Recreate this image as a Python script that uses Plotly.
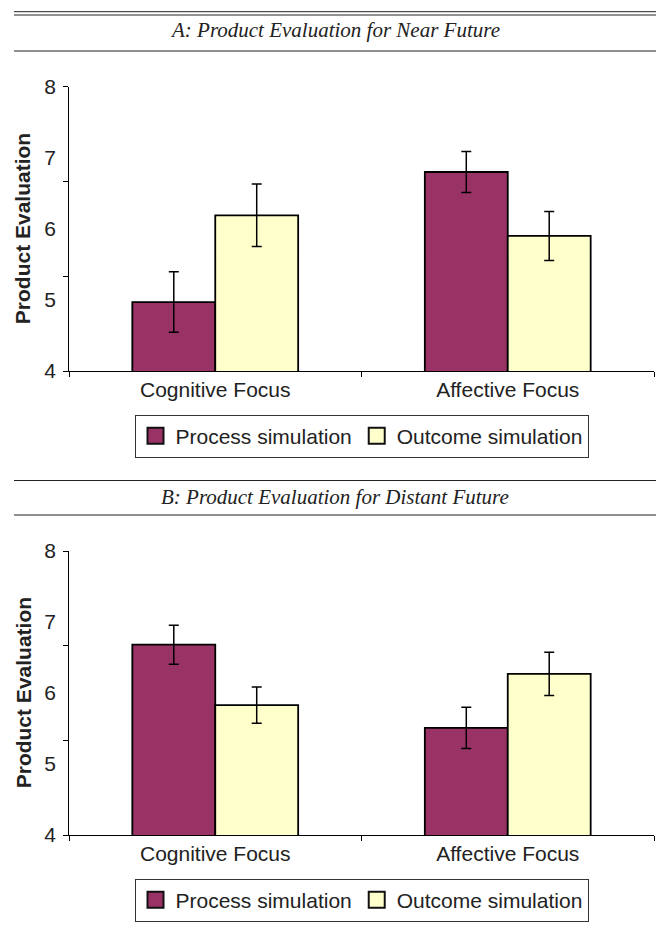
import plotly.graph_objects as go

# ---------------- data ----------------
categories = ["Cognitive Focus", "Affective Focus"]
series_names = ["Process simulation", "Outcome simulation"]

near_process = [4.97, 6.80]
near_process_err = [0.425, 0.29]
near_outcome = [6.19, 5.90]
near_outcome_err = [0.44, 0.345]

far_process = [6.68, 5.51]
far_process_err = [0.275, 0.29]
far_outcome = [5.83, 6.27]
far_outcome_err = [0.255, 0.305]

y_labels = [4, 5, 6, 7, 8]
y_tickmarks = [4, 4 + 4 / 3, 4 + 8 / 3, 8]

panel_titles = ["A: Product Evaluation for Near Future",
                "B: Product Evaluation for Distant Future"]
y_title = "Product Evaluation"

# ---------------- style ----------------
W, H = 656, 940
PROC = "#993366"
OUTC = "#FFFFCC"
TXT = "#222222"
SANS = "Liberation Sans, Arial, sans-serif"
SERIF = "Liberation Serif, Times New Roman, serif"
FS = 21

def py(px):  # pixel from top -> paper
    return 1 - px / H

def pxx(px):
    return px / W

xdom = [pxx(69), pxx(654)]
doms = {
    "A": [py(371), py(86.7)],
    "B": [py(835), py(551)],
}

fig = go.Figure()

panels = [
    ("x", "y", "y3", "legend", near_process, near_process_err, near_outcome, near_outcome_err),
    ("x2", "y2", "y4", "legend2", far_process, far_process_err, far_outcome, far_outcome_err),
]

for xa, ya, yl, lg, pv, pe, ov, oe in panels:
    fig.add_trace(go.Bar(
        x=categories, y=pv, name=series_names[0], xaxis=xa, yaxis=ya,
        marker=dict(color=PROC, line=dict(color="black", width=1.8)),
        error_y=dict(type="data", array=pe, color="black", thickness=1.5, width=5),
        showlegend=False, hoverinfo="skip"))
    fig.add_trace(go.Bar(
        x=categories, y=ov, name=series_names[1], xaxis=xa, yaxis=ya,
        marker=dict(color=OUTC, line=dict(color="black", width=1.8)),
        error_y=dict(type="data", array=oe, color="black", thickness=1.5, width=5),
        showlegend=False, hoverinfo="skip"))
    # legend entries
    for nm, col in zip(series_names, [PROC, OUTC]):
        fig.add_trace(go.Scatter(
            x=[None], y=[None], mode="markers", name=nm, xaxis=xa, yaxis=ya,
            marker=dict(symbol="square", size=16, color=col,
                        line=dict(color="#111", width=2)),
            legend=lg, hoverinfo="skip"))
    # dummy trace for label axis
    fig.add_trace(go.Scatter(x=[None], y=[None], xaxis=xa, yaxis=yl,
                             showlegend=False, hoverinfo="skip"))

xcommon = dict(type="category", range=[-0.5, 1.5], domain=xdom,
               showline=True, linecolor="black", linewidth=1,
               ticks="outside", tickson="boundaries", ticklen=5,
               tickcolor="black", showgrid=False, zeroline=False,
               tickfont=dict(family=SANS, size=FS, color=TXT), fixedrange=True)

ymain = dict(range=[4, 8], showline=True, linecolor="black", linewidth=1,
             tickmode="array", tickvals=y_tickmarks, showticklabels=False,
             ticks="outside", ticklen=5, tickcolor="black",
             showgrid=False, zeroline=False, fixedrange=True)

ylab = dict(range=[4, 8], showline=False, tickmode="array", tickvals=y_labels,
            ticks="", showgrid=False, zeroline=False, ticklabelstandoff=12,
            tickfont=dict(family=SANS, size=FS, color=TXT), fixedrange=True)

fig.update_layout(
    width=W, height=H,
    margin=dict(l=0, r=0, t=0, b=0, pad=0, autoexpand=False),
    paper_bgcolor="white", plot_bgcolor="white",
    barmode="group", bargap=0.433, bargroupgap=0,
    xaxis=dict(**xcommon, anchor="y"),
    xaxis2=dict(**xcommon, anchor="y2"),
    yaxis=dict(**ymain, domain=doms["A"], anchor="x"),
    yaxis2=dict(**ymain, domain=doms["B"], anchor="x2"),
    yaxis3=dict(**ylab, overlaying="y", anchor="x"),
    yaxis4=dict(**ylab, overlaying="y2", anchor="x2"),
    legend=dict(orientation="h", x=pxx(361.5), xanchor="center",
                y=py(414.7), yanchor="top", bordercolor="#333", borderwidth=1,
                font=dict(family=SANS, size=FS, color=TXT), bgcolor="white"),
    legend2=dict(orientation="h", x=pxx(361.5), xanchor="center",
                 y=py(878.7), yanchor="top", bordercolor="#333", borderwidth=1,
                 font=dict(family=SANS, size=FS, color=TXT), bgcolor="white"),
    showlegend=True,
)

# header rules and titles
rule_rows = [11.7, 15, 51, 480.5, 515]
for yy in rule_rows:
    fig.add_shape(type="line", xref="paper", yref="paper",
                  x0=pxx(14), x1=1, y0=py(yy), y1=py(yy),
                  line=dict(color="#222", width=1))

for t, yc in zip(panel_titles, [30, 497]):
    fig.add_annotation(text="<i>" + t + "</i>", xref="paper", yref="paper",
                       x=pxx(335), y=py(yc), xanchor="center", yanchor="middle",
                       showarrow=False, font=dict(family=SERIF, size=21, color=TXT))

for yc in [228.9, 693]:
    fig.add_annotation(text="<b>" + y_title + "</b>", xref="paper", yref="paper",
                       x=pxx(23.3), y=py(yc), xanchor="center", yanchor="middle",
                       textangle=-90, showarrow=False,
                       font=dict(family=SANS, size=FS, color=TXT))

fig.write_html(
    "out.html",
    config={"displayModeBar": False},
    post_script="document.body.style.margin='0';document.body.style.padding='0';"
                "document.documentElement.style.overflow='hidden';",
)
